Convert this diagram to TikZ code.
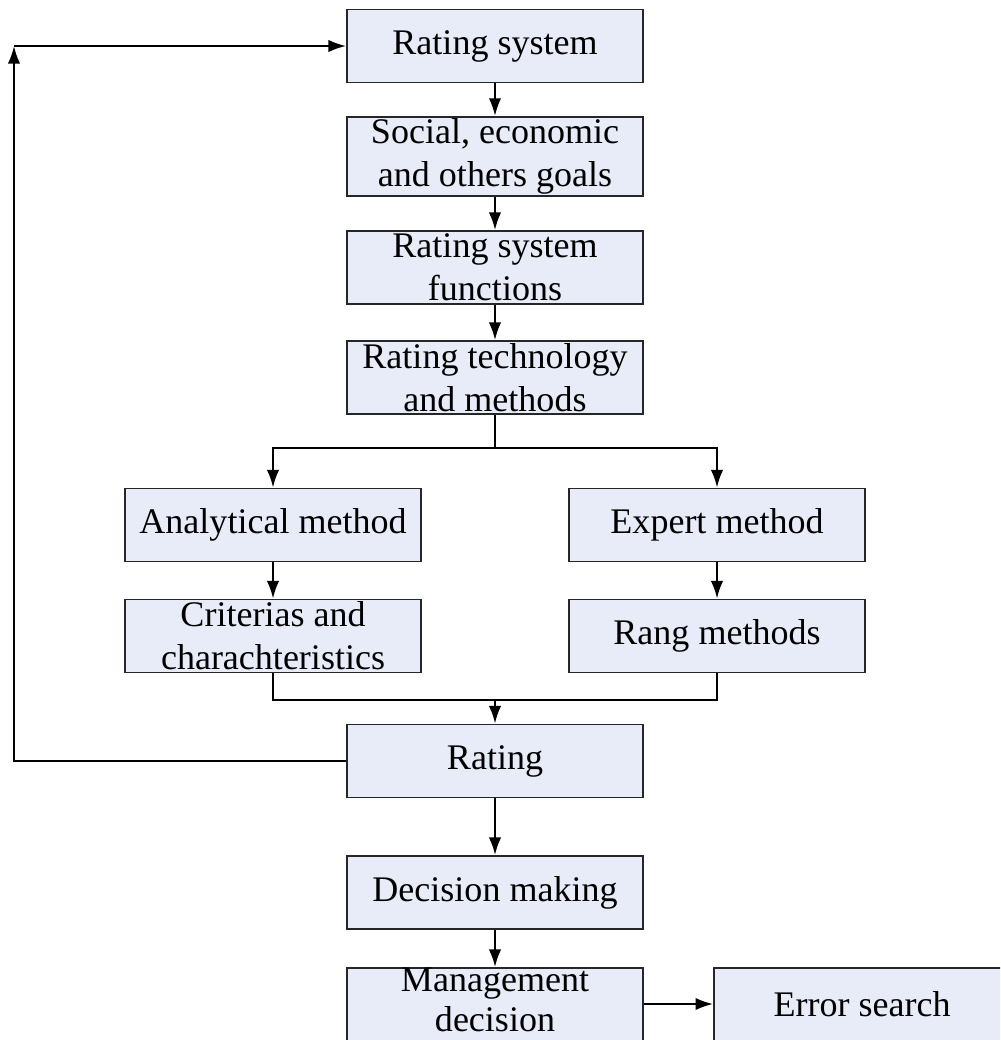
\documentclass[tikz,border=0pt]{standalone}
\usepackage{fontspec}
\setmainfont{Liberation Serif}
\usetikzlibrary{arrows.meta}
\definecolor{boxfill}{RGB}{231,236,248}

\begin{document}
\begin{tikzpicture}[x=0.02cm, y=-0.02cm,
    box/.style={draw=black!85, line width=1.1pt, fill=boxfill, minimum width=5.92cm,
        minimum height=1.46cm, align=center, inner sep=1pt,
        font=\fontsize{20.5}{24.5}\selectfont},
    arr/.style={-{Latex[length=10pt,width=7pt]}, line width=1.1pt},
    ln/.style={line width=1.1pt}]
    \useasboundingbox (0,0) rectangle (1000,1040);
    \clip (0,0) rectangle (1000,1040);
    \node[box] (S) at (495,46) {Rating system};
    \node[box] (G) at (495,156.5) {Social, economic\\and others goals};
    \node[box] (F) at (495,267.5) {Rating system\\functions};
    \node[box] (T) at (495,377.5) {Rating technology\\and methods};
    \node[box] (A) at (273,525) {Analytical method};
    \node[box] (E) at (717,525) {Expert method};
    \node[box] (C) at (273,636) {Criterias and\\charachteristics};
    \node[box] (M) at (717,636) {Rang methods};
    \node[box] (R) at (495,761) {Rating};
    \node[box] (D) at (495,892.5) {Decision making};
    \node[box, minimum height=1.6cm] (K) at (495,1008) {};
    \node[align=center, inner sep=0pt, font=\fontsize{20.5}{23}\selectfont] (Kt) at (495,1000) {Management\\decision};
    \node[box, minimum height=1.6cm] (X) at (862,1008) {};
    \node[inner sep=0pt, font=\fontsize{20.5}{23}\selectfont] (Xt) at (862,1004) {Error search};
    \coordinate (T1) at (495,448);
    \coordinate (M1) at (495,700);
    \coordinate (L) at (14,46);
    \draw[arr] (S) -- (G);
    \draw[arr] (G) -- (F);
    \draw[arr] (F) -- (T);
    \draw[ln] (T) -- (T1);
    \draw[arr] (T1) -| (A);
    \draw[arr] (T1) -| (E);
    \draw[arr] (A) -- (C);
    \draw[arr] (E) -- (M);
    \draw[ln] (C) |- (M1);
    \draw[ln] (M) |- (M1);
    \draw[arr] (M1) -- (R);
    \draw[arr] (R) -- (D);
    \draw[arr] (D) -- (K);
    \draw[arr] (K.east |- Xt) -- (X.west |- Xt);
    \draw[arr] (R.west) -| (L);
    \draw[arr] (L) -- (S);
\end{tikzpicture}
\end{document}
